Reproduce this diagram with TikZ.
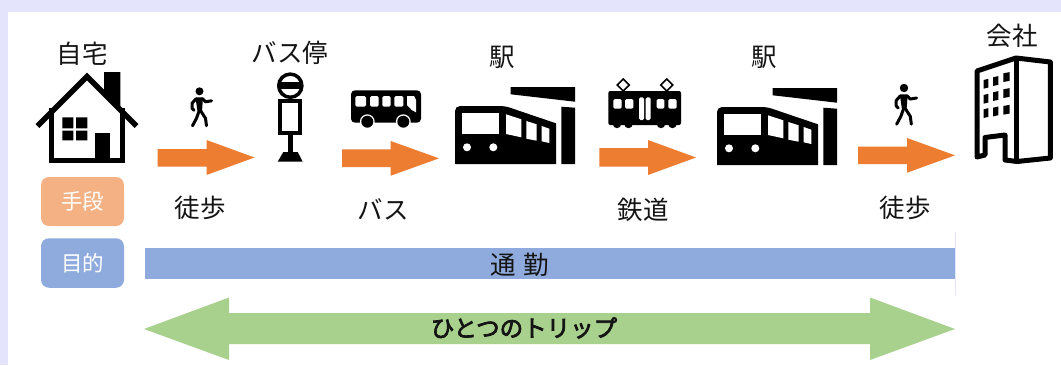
\documentclass[tikz,border=0pt]{standalone}
\usepackage{fontspec}
\setmainfont{Noto Sans CJK JP}
\definecolor{pagebg}{RGB}{228,228,252}
\definecolor{orangeA}{RGB}{237,125,49}
\definecolor{orangeB}{RGB}{244,177,131}
\definecolor{blueB}{RGB}{143,170,220}
\definecolor{greenA}{RGB}{169,209,142}
\definecolor{ink}{RGB}{20,20,20}
\tikzset{
  lbl/.style={inner sep=0pt,text=ink,font=\fontsize{25.5}{25.5}\selectfont},
  tag/.style={rounded corners=8pt,minimum width=83pt,inner sep=0pt,text=white,font=\fontsize{21.5}{21.5}\selectfont},
  blk/.style={fill=black,draw=none},
  wht/.style={fill=white,draw=none},
  legline/.style={draw=black,line width=3pt,line cap=round,line join=round},
}
% orange arrow: x0, xbase, xtip, ytop, yshafttop, yshaftbot, ybot
\newcommand{\orangearrow}[7]{\fill[orangeA] (#1,#5)--(#2,#5)--(#2,#4)--(#3,{(#4+#7)/2})--(#2,#7)--(#2,#6)--(#1,#6)--cycle;}
\newcommand{\walker}[3]{%
 \begin{scope}[shift={(#1,#2)},scale=#3]
  \fill (0,0) circle (4);
  \fill (-4,6)--(3.5,6)--(2.5,20)--(-2,20)--cycle;
  \draw[legline] (-3.5,7.5)--(-7.5,12)--(-7.5,17)--(-5.5,19);
  \draw[legline] (3,7.5)--(6,10.5)--(12,9.5);
  \draw[legline] (-0.5,20)--(-3,27)--(-7,34.5);
  \draw[legline] (1.5,20)--(6,27)--(7,34.5);
 \end{scope}}
\newcommand{\station}[2]{%
 \begin{scope}[shift={(#1,#2)}]
  \fill[blk] (510.7,87)--(575,87)--(575,101.7)--(510.7,94.3)--cycle;
  \fill[blk] (561.3,106.7)--(575,107.7)--(575,164)--(561.3,164)--cycle;
  \fill[blk,rounded corners=5pt] (455,164)--(455,106)--(505,106)--(530,114.5)[sharp corners]--(556,123.3)--(556,164)--cycle;
  \fill[blk] (540,150)--(556,150)--(556,164)--(540,164)--cycle;
  \fill[wht] (461.7,113) rectangle (499.3,133.7);
  \fill[wht] (506,114.3)--(521.3,119.3)--(521.3,137.3)--(506,134)--cycle;
  \fill[wht] (526.3,121)--(536.7,124.3)--(536.7,140.7)--(526.3,138.7)--cycle;
  \fill[wht] (541.7,126)--(549.3,128.7)--(549.3,143)--(541.7,141.3)--cycle;
  \fill[wht] (467,147.3) circle (4) (493.3,147.3) circle (4);
 \end{scope}}
\begin{document}
\begin{tikzpicture}[x=1pt,y=-1pt]
\useasboundingbox (0,0) rectangle (1061,365);
\fill[pagebg] (0,0) rectangle (1061,365);
\fill[white] (7.5,12) rectangle (1061,365);

% house
\fill[blk] (104,72)--(120.3,72)--(120.3,112)--(104,96)--cycle;
\fill[wht] (51.5,112)--(87,77)--(122.5,112)--(122.5,160)--(51.5,160)--cycle;
\draw[line width=4.5pt] (51.5,108)--(51.5,160.5)--(122.5,160.5)--(122.5,108);
\draw[line width=5.5pt] (37.5,126)--(87,76.5)--(136.5,126);
\fill[blk] (62.3,117.3) rectangle (73.3,128.3) (76,117.3) rectangle (87.3,128.3)
           (62.3,130.7) rectangle (73.3,140.3) (76,130.7) rectangle (87.3,140.3);
\fill[blk] (95,133.3) rectangle (110.3,159);

% walkers
\walker{199.5}{91.3}{1}
\walker{904}{88}{1.05}

% bus stop
\draw[line width=3.5pt] (290.3,85.7) circle (11.6);
\fill[blk] (279,82) rectangle (301.6,88.5);
\draw[line width=4pt] (280.3,101.3) rectangle (300,133);
\fill[blk] (288.3,135) rectangle (292.7,152);
\fill[blk] (283.3,152)--(297.7,152)--(302.7,161.7)--(277.7,161.7)--cycle;

% bus
\fill[blk,rounded corners=4pt] (351,90.3) rectangle (421,122.7);
\fill[wht,rounded corners=1.5pt] (355.3,96) rectangle (366,106.7) (370,96) rectangle (378.7,106.7)
   (382.3,96) rectangle (390.7,106.7) (394.3,96) rectangle (403.3,106.7);
\fill[wht] (407,96)--(414,96)--(416,100)--(416,112.3)--(411.7,110)--(407,105)--cycle;
\fill[wht] (367.3,121.7) circle (7.4) (403.3,121.7) circle (7.4);
\fill[blk] (367.3,121.7) circle (6) (403.3,121.7) circle (6);

% stations
\station{0}{0}
\station{262}{1}

% tram
\draw[line width=1.5pt,fill=white] (623.3,79)--(629.3,85)--(623.3,91)--(617.3,85)--cycle;
\draw[line width=1.5pt,fill=white] (666.7,79)--(672.7,85)--(666.7,91)--(660.7,85)--cycle;
\fill[blk,rounded corners=2pt] (608.3,91) rectangle (681,125);
\fill[blk] (617,124) circle (4.2) (628.5,124) circle (4.2) (661,124) circle (4.2) (672.5,124) circle (4.2);
\fill[wht,rounded corners=1.5pt] (613.3,99) rectangle (621.7,108.7) (625,99) rectangle (633.3,108.7)
   (656.7,99) rectangle (664.3,108.7) (668.3,99) rectangle (676.7,108.7)
   (639,97.3) rectangle (644,120) (645.7,97.3) rectangle (650.7,120);

% building
\fill[wht] (1016,58)--(977,71)--(977,157)--(1017,161.5)--(1050.3,158)--(1050.3,62)--cycle;
\draw[line width=5pt,line join=round] (1016,58)--(977,71)--(977,157)--(985,155)--(985,137.5)--(1005,135)--(1005,160)--(1017,161.5)--(1050.3,158)--(1050.3,62)--cycle;
\draw[line width=5pt] (1016.8,58)--(1016.8,161.5);
\foreach \xa/\xb/\ya/\yb/\yc in {983.7/988.3/80/95/109.3,993/998.3/77.3/92.3/107.7,1003.3/1009.7/73.3/89.3/106}{
  \foreach \yy in {\ya,\yb,\yc}{
    \fill[blk] (\xa,\yy)--(\xb,\yy-1.2)--(\xb,\yy+7.5)--(\xa,\yy+8.7)--cycle;
  }
}

% orange arrows
\orangearrow{157.5}{206.5}{254.5}{140}{149}{166.7}{175}
\orangearrow{342}{390.7}{439}{141}{149.3}{167}{175.7}
\orangearrow{599.3}{648}{696}{140}{148}{166.5}{175}
\orangearrow{858}{907}{955}{138}{146.7}{164}{172.7}

% labels
\node[lbl] (home) at (82,54) {自宅};
\node[lbl] (stop) at (290,53) {バス停};
\node[lbl] (sta1) at (502,57) {駅};
\node[lbl] (sta2) at (764,57) {駅};
\node[lbl] (office) at (1012,36) {会社};
\node[lbl] (walk1) at (200,208) {徒歩};
\node[lbl] (busl) at (383,209) {バス};
\node[lbl] (rail) at (643,210) {鉄道};
\node[lbl] (walk2) at (905,208) {徒歩};

% tags
\node[tag,fill=orangeB,minimum height=49pt] (means) at (82.5,201.5) {\raisebox{-2pt}{手段}};
\node[tag,fill=blueB,minimum height=49.5pt] (purpose) at (82.5,263) {\raisebox{-1pt}{目的}};

% purpose bar
\draw[pagebg,line width=0.7pt] (955.5,232)--(955.5,295);
\fill[blueB] (145,248) rectangle (955,279);
\node[lbl] (commute) at (519.5,265) {通\hspace{8pt}勤};

% trip arrow
\fill[greenA] (144,329)--(229,297.5)--(229,313)--(870,313)--(870,297.5)--(955,329)--(870,360)--(870,344)--(229,344)--(229,360)--cycle;
\node[lbl,font=\fontsize{23.5}{23.5}\selectfont\addfontfeature{FakeBold=3}] (trip) at (524,328) {ひとつのトリップ};
\end{tikzpicture}
\end{document}
